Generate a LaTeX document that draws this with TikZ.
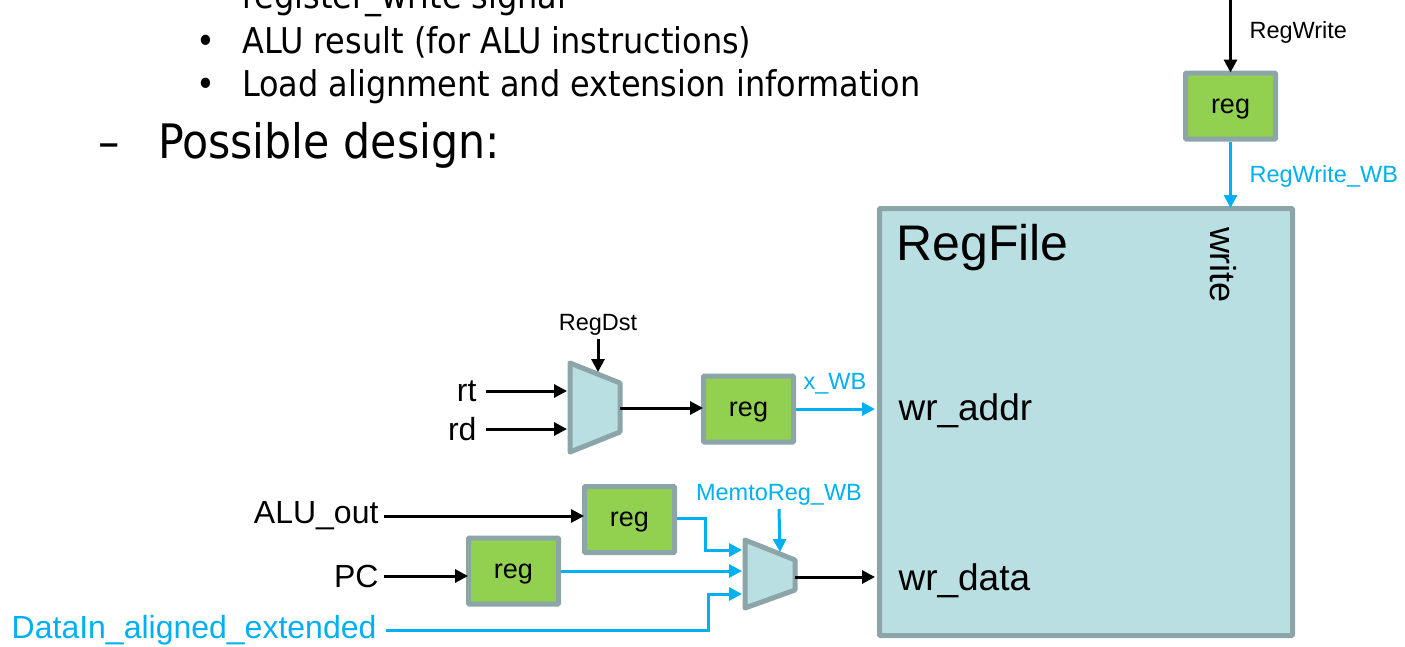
\documentclass[tikz,border=0pt]{standalone}
\usepackage{fontspec}
\setmainfont{Liberation Sans}
\newfontfamily\slidefont{DejaVu Sans Condensed}
\usetikzlibrary{arrows.meta,calc}
\definecolor{regfill}{HTML}{92D050}
\definecolor{edgegray}{HTML}{8CA5A8}
\definecolor{rffill}{HTML}{BADFE3}
\definecolor{wbblue}{HTML}{00B0F0}
\begin{document}
\begin{tikzpicture}[x=1pt,y=-1pt,
  regbox/.style={draw=edgegray,fill=regfill,line width=5pt,minimum width=90pt,
    minimum height=66pt,inner sep=0pt,rounded corners=1pt,text depth=0pt,
    font=\fontsize{27}{27}\selectfont},
  muxshape/.style={draw=edgegray,fill=rffill,line width=5pt,line join=round},
  sig/.style={line width=3pt,-{Triangle[length=13pt,width=13pt]}},
  bsig/.style={sig,draw=wbblue},
  biglab/.style={font=\fontsize{32}{32}\selectfont},
  smalllab/.style={font=\fontsize{23.5}{23.5}\selectfont},
  slidetext/.style={font=\slidefont\fontsize{35.5}{35.5}\selectfont,anchor=base west,inner sep=0pt},
  headtext/.style={slidetext,font=\slidefont\fontsize{47.5}{47.5}\selectfont},
]
\useasboundingbox (0,0) rectangle (1405,646);

% slide text
\node[slidetext] (l0) at (242,8) {register\_write signal};
\node[slidetext] (b1) at (196,53) {\textbullet};
\node[slidetext] (l1) at (242,53) {ALU result (for ALU instructions)};
\node[slidetext] (b2) at (196,96) {\textbullet};
\node[slidetext] (l2) at (242,96) {Load alignment and extension information};
\node[headtext] (dash) at (98,158) {–};
\node[headtext] (pd) at (158,158) {Possible design:};

% register file
\node[draw=edgegray,fill=rffill,line width=5pt,minimum width=413pt,minimum height=427pt,
  rounded corners=1pt] (rf) at (1086,422) {};
\node[anchor=west,font=\fontsize{50}{50}\selectfont] (rfname) at (893,248) {RegFile};
\node[anchor=west,font=\fontsize{37}{37}\selectfont] (wraddr) at (895,411) {wr\_addr};
\node[anchor=west,font=\fontsize{37}{37}\selectfont] (wrdata) at (895,581) {wr\_data};
\node[rotate=-90,font=\fontsize{36}{36}\selectfont] (wrt) at (1223,265) {write};

% RegWrite pipeline register
\node[regbox] (rwreg) at (1230.5,106) {reg};
\coordinate (rwin) at (1230.5,0);
\draw[sig] (rwin) -- ([yshift=-2pt]rwreg.north);
\node[smalllab,anchor=west] (rwlab) at (1246,32) {RegWrite};
\draw[bsig] (rwreg.south) -- ([yshift=-2pt]rwreg.south |- rf.north);
\node[smalllab,anchor=west,text=wbblue] (rwwb) at (1246,176) {RegWrite\_WB};

% destination mux
\coordinate (m1a) at (570,363);
\coordinate (m1b) at (620,383);
\coordinate (m1c) at (620,432);
\coordinate (m1d) at (570,452);
\draw[muxshape] (m1a) -- (m1b) -- (m1c) -- (m1d) -- cycle;
\coordinate (m1in1) at (567,391);
\coordinate (m1in2) at (567,429);
\coordinate (m1out) at (620,408);
\coordinate (m1sel) at (598,372);
\node[smalllab] (regdst) at (598,325) {RegDst};
\draw[sig] (regdst.south) -- (m1sel);
\node[biglab,anchor=east] (rt) at (480,391) {rt};
\node[biglab,anchor=east] (rd) at (480,429) {rd};
\draw[sig] ([xshift=6pt]rt.east) -- (m1in1);
\draw[sig] ([xshift=6pt]rd.east) -- (m1in2);

\node[regbox] (dreg) at (748.5,409) {reg};
\draw[sig] (m1out) -- ([xshift=2pt]m1out -| dreg.west);
\draw[bsig] (dreg.east) -- ([xshift=-2pt]dreg.east -| rf.west);
\node[smalllab,text=wbblue] (xwb) at (835,384) {x\_WB};

% write-data mux
\coordinate (m2a) at (745,540);
\coordinate (m2b) at (795,560);
\coordinate (m2c) at (795,590);
\coordinate (m2d) at (745,608);
\draw[muxshape] (m2a) -- (m2b) -- (m2c) -- (m2d) -- cycle;
\coordinate (m2in1) at (742,550);
\coordinate (m2in2) at (742,571);
\coordinate (m2in3) at (742,594);
\coordinate (m2out) at (795,577);
\coordinate (m2sel) at (780,552);
\node[smalllab,text=wbblue] (mtr) at (779,495) {MemtoReg\_WB};
\draw[bsig] (mtr.south) -- (m2sel);
\draw[sig] (m2out) -- ([xshift=-2pt]m2out -| rf.west);

\node[regbox] (areg) at (629.5,519.5) {reg};
\node[regbox] (preg) at (513.5,571) {reg};
\node[biglab,anchor=east] (aluout) at (382,516) {ALU\_out};
\node[biglab,anchor=east] (pc) at (382,576) {PC};
\node[biglab,anchor=east,text=wbblue] (din) at (380,630) {DataIn\_aligned\_extended};
\draw[sig] ([xshift=2pt]aluout.east) -- ([xshift=2pt]aluout.east -| areg.west);
\draw[sig] ([xshift=2pt]pc.east) -- ([xshift=2pt]pc.east -| preg.west);
\draw[bsig] ([yshift=1pt]areg.east) -| (705,550) -- (m2in1);
\draw[bsig] (preg.east) -- (m2in2);
\draw[bsig] ([xshift=6pt]din.east) -| (708,594) -- (m2in3);
\end{tikzpicture}
\end{document}
